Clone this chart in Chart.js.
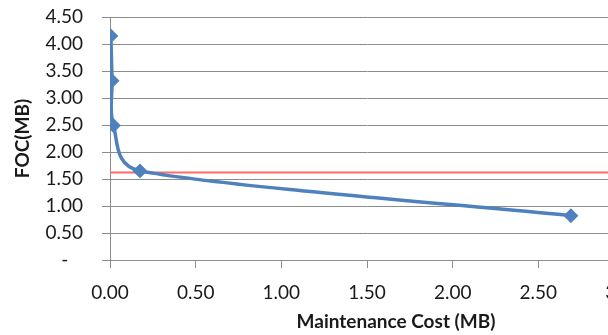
<!DOCTYPE html>
<html>
<head>
<meta charset="utf-8">
<script src="https://cdn.jsdelivr.net/npm/chart.js@4"></script>
<style>
html,body{margin:0;padding:0;background:#fff;overflow:hidden;}
#wrap{width:640px;height:335px;}
</style>
</head>
<body>
<div id="wrap"><canvas id="c" width="640" height="335"></canvas></div>
<script>
// Data
const maintenanceCost = [0.005, 0.012, 0.02, 0.175, 2.69];
const foc = [4.15, 3.32, 2.49, 1.65, 0.82];
const thresholdX = [0, 3.0];
const thresholdY = [1.62, 1.62];
const yTicks = [0, 0.5, 1, 1.5, 2, 2.5, 3, 3.5, 4, 4.5];
const xTicks = [0, 0.5, 1, 1.5, 2, 2.5, 3];
const xTitle = 'Maintenance Cost (MB)';
const yTitle = 'FOC(MB)';

const FONT = 'Lato';
const gridColor = '#8c8c8c';
const textColor = '#1a1a1a';

// Spreadsheet-style smoothing: recompute Bezier control points of the line
const smoothPlugin = {
  id: 'sheetSmooth',
  beforeDatasetDraw(chart, args) {
    if (args.index !== 0) return;
    const line = args.meta.dataset;
    if (!line) return;
    line.updateControlPoints(chart.chartArea, 'x');
    const pts = args.meta.data;
    const n = pts.length;
    const d = (a, b) => Math.hypot(b.x - a.x, b.y - a.y);
    for (let i = 0; i < n - 1; i++) {
      const p1 = pts[i], p2 = pts[i + 1];
      const p0 = i > 0 ? pts[i - 1] : p1;
      const p3 = i + 2 < n ? pts[i + 2] : p2;
      const d02 = d(p0, p2), d12 = d(p1, p2), d13 = d(p1, p3);
      let f0 = 1 / 6, f1 = 1 / 6;
      if (d02 > 0 && d02 / 6 >= d12 / 2) f0 = d12 / d02 / 2;
      if (d13 > 0 && d13 / 6 >= d12 / 2) f1 = d12 / d13 / 2;
      p1.cp2x = p1.x + f0 * (p2.x - p0.x);
      p1.cp2y = p1.y + f0 * (p2.y - p0.y);
      p2.cp1x = p2.x - f1 * (p3.x - p1.x);
      p2.cp1y = p2.y - f1 * (p3.y - p1.y);
    }
    line._path = undefined;
  }
};

const xTitlePlugin = {
  id: 'xTitlePlugin',
  afterDraw(chart) {
    const ctx = chart.ctx;
    ctx.save();
    ctx.font = 'bold 19px ' + FONT;
    ctx.fillStyle = textColor;
    ctx.textAlign = 'center';
    ctx.textBaseline = 'middle';
    ctx.fillText(xTitle, 396, 322);
    ctx.restore();
  }
};

new Chart(document.getElementById('c'), {
  type: 'scatter',
  data: {
    datasets: [
      {
        label: 'FOC',
        data: maintenanceCost.map((x, i) => ({x: x, y: foc[i]})),
        showLine: true,
        borderColor: '#4f81bd',
        backgroundColor: '#4f81bd',
        borderWidth: 3.5,
        borderCapStyle: 'round',
        borderJoinStyle: 'round',
        pointStyle: 'rectRot',
        pointRadius: 5,
        pointHoverRadius: 5,
        tension: 0.4,
        order: 1
      },
      {
        label: 'Threshold',
        data: thresholdX.map((x, i) => ({x: x, y: thresholdY[i]})),
        showLine: true,
        borderColor: '#ff6b6b',
        borderWidth: 2,
        pointRadius: 0,
        tension: 0,
        order: 2
      }
    ]
  },
  options: {
    responsive: false,
    animation: false,
    layout: {padding: {top: 17, right: 16, left: 0, bottom: 0}},
    plugins: {legend: {display: false}, tooltip: {enabled: false}},
    scales: {
      x: {
        type: 'linear',
        min: 0, max: 3,
        afterBuildTicks: (s) => { s.ticks = xTicks.map(v => ({value: v})); },
        afterFit: (s) => { s.height = 75; s.paddingLeft = 0; s.paddingRight = 0; },
        ticks: {
          callback: (v) => Number(v).toFixed(2),
          font: {family: FONT, size: 19},
          color: textColor,
          padding: 13,
          maxRotation: 0,
          autoSkip: false
        },
        grid: {drawOnChartArea: false, color: gridColor, tickLength: 8, lineWidth: 1},
        border: {color: gridColor, width: 1},
        title: {display: false}
      },
      y: {
        type: 'linear',
        min: 0, max: 4.5,
        afterBuildTicks: (s) => { s.ticks = yTicks.map(v => ({value: v})); },
        afterFit: (s) => { s.width = 110; s.paddingTop = 0; s.paddingBottom = 0; },
        ticks: {
          callback: (v) => v === 0 ? '-   ' : Number(v).toFixed(2),
          font: {family: FONT, size: 19},
          color: textColor,
          padding: 19,
          autoSkip: false
        },
        grid: {color: gridColor, tickLength: 8, lineWidth: 1},
        border: {color: gridColor, width: 1},
        title: {
          display: true,
          text: yTitle,
          font: {family: FONT, size: 19, weight: 'bold'},
          color: textColor,
          padding: {top: 11, bottom: 0}
        }
      }
    }
  },
  plugins: [smoothPlugin, xTitlePlugin]
});
</script>
</body>
</html>
